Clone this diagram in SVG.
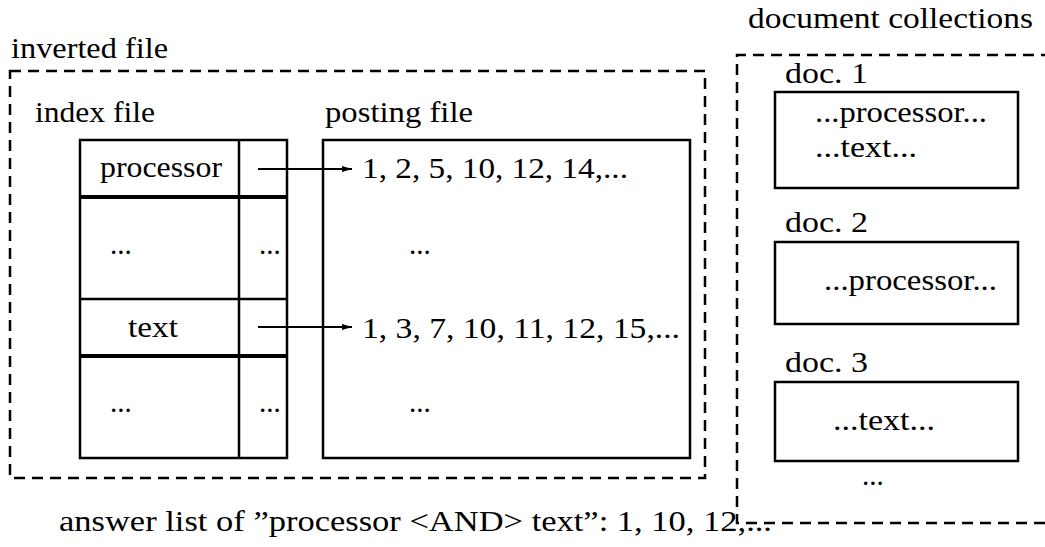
<svg xmlns="http://www.w3.org/2000/svg" width="1045" height="547" viewBox="0 0 1045 547" font-family="'Liberation Serif', 'Times New Roman', serif">
<style>
text { font-size: 29px; fill: #000; }
.dash { fill: none; stroke: #000; stroke-width: 2.5; stroke-dasharray: 11 7; }
.box { fill: none; stroke: #000; stroke-width: 2.5; }
.thick { stroke: #000; stroke-width: 4; }
.thin { stroke: #000; stroke-width: 2.5; }
.conn { stroke: #000; stroke-width: 2; fill: none; }
</style>
<defs>
<marker id="arr" viewBox="0 0 10 6" refX="10" refY="3" markerWidth="10" markerHeight="6" markerUnits="userSpaceOnUse" orient="auto">
<path d="M0,0 L10,3 L0,6 z" fill="#000"/>
</marker>
</defs>
<rect width="1045" height="547" fill="#fff"/>

<g id="inverted-file">
<rect class="dash" x="10" y="71" width="695" height="407"/>
<text x="11" y="58" textLength="157" lengthAdjust="spacingAndGlyphs">inverted file</text>
</g>

<g id="index-file">
<text x="35" y="122" textLength="120" lengthAdjust="spacingAndGlyphs">index file</text>
<rect class="box" x="80" y="140" width="207" height="318"/>
<line class="thin" x1="239" y1="140" x2="239" y2="458"/>
<line class="thick" x1="80" y1="197" x2="287" y2="197"/>
<line class="thin" x1="80" y1="299" x2="287" y2="299"/>
<line class="thick" x1="80" y1="356" x2="287" y2="356"/>
<text x="100" y="177" textLength="122" lengthAdjust="spacingAndGlyphs">processor</text>
<text x="110" y="254">...</text>
<text x="259" y="254">...</text>
<text x="128" y="337" textLength="50" lengthAdjust="spacingAndGlyphs">text</text>
<text x="110" y="412">...</text>
<text x="259" y="412">...</text>
</g>

<g id="posting-file">
<text x="325" y="122" textLength="148" lengthAdjust="spacingAndGlyphs">posting file</text>
<rect class="box" x="323" y="140" width="367" height="318"/>
<text x="362" y="178" textLength="266" lengthAdjust="spacingAndGlyphs">1, 2, 5, 10, 12, 14,...</text>
<text x="409" y="254">...</text>
<text x="362" y="338" textLength="318" lengthAdjust="spacingAndGlyphs">1, 3, 7, 10, 11, 12, 15,...</text>
<text x="409" y="412">...</text>
</g>

<g id="document-collections">
<path class="dash" d="M1045,523 H737 V55 H1045"/>
<text x="748" y="28" textLength="285" lengthAdjust="spacingAndGlyphs">document collections</text>
<text x="862" y="485">...</text>
</g>

<g id="doc1">
<text x="785" y="83" textLength="83" lengthAdjust="spacingAndGlyphs">doc. 1</text>
<rect class="box" x="775" y="92" width="243" height="96"/>
<text x="815" y="122" textLength="172" lengthAdjust="spacingAndGlyphs">...processor...</text>
<text x="815" y="157" textLength="102" lengthAdjust="spacingAndGlyphs">...text...</text>
</g>

<g id="doc2">
<text x="785" y="232" textLength="83" lengthAdjust="spacingAndGlyphs">doc. 2</text>
<rect class="box" x="775" y="242" width="243" height="82"/>
<text x="824" y="290" textLength="173" lengthAdjust="spacingAndGlyphs">...processor...</text>
</g>

<g id="doc3">
<text x="785" y="372" textLength="83" lengthAdjust="spacingAndGlyphs">doc. 3</text>
<rect class="box" x="775" y="382" width="243" height="79"/>
<text x="833" y="430" textLength="102" lengthAdjust="spacingAndGlyphs">...text...</text>
</g>

<g id="answer">
<text x="59" y="531" textLength="713" lengthAdjust="spacingAndGlyphs">answer list of ”processor &lt;AND&gt; text”: 1, 10, 12,...</text>
</g>

<g id="connectors">
<line class="conn" x1="258" y1="169" x2="352" y2="169" marker-end="url(#arr)"/>
<line class="conn" x1="258" y1="327" x2="352" y2="327" marker-end="url(#arr)"/>
</g>
</svg>
